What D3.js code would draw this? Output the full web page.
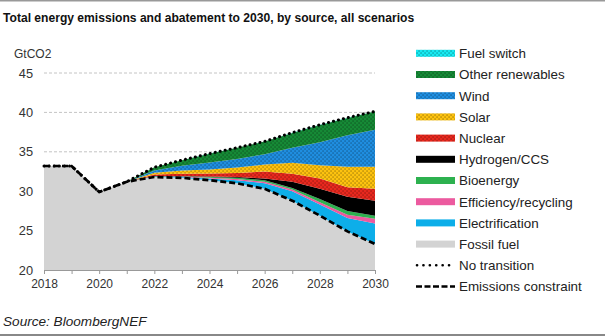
<!DOCTYPE html>
<html>
<head>
<meta charset="utf-8">
<script src="https://cdn.jsdelivr.net/npm/d3@7"></script>
<style>
  html, body { margin: 0; padding: 0; background: #fff; }
  svg { display: block; font-family: Arial, "Liberation Sans", sans-serif; }
</style>
</head>
<body>
<svg id="chart" width="605" height="336"></svg>
<script>
// Emissions by source (GtCO2), 2018–2030
const years = [2018, 2019, 2020, 2021, 2022, 2023, 2024, 2025, 2026, 2027, 2028, 2029, 2030];
const fossilFuel      = [33.2, 33.2, 29.9, 31.2, 31.8, 31.7, 31.4, 31.0, 30.3, 28.8, 26.9, 24.9, 23.3];
const electrification = [0, 0, 0, 0, 0.05, 0.1, 0.2, 0.4, 0.7, 1.2, 1.4, 1.7, 2.6];
const efficiency      = [0, 0, 0, 0, 0.03, 0.05, 0.1, 0.15, 0.2, 0.2, 0.3, 0.4, 0.6];
const bioenergy       = [0, 0, 0, 0, 0.03, 0.05, 0.1, 0.15, 0.2, 0.2, 0.4, 0.5, 0.4];
const hydrogenCCS     = [0, 0, 0, 0, 0.02, 0.03, 0.05, 0.1, 0.2, 0.8, 1.3, 1.8, 1.9];
const nuclear         = [0, 0, 0, 0, 0.2, 0.3, 0.4, 0.5, 0.9, 1.0, 1.3, 1.2, 1.5];
const solar           = [0, 0, 0, 0, 0.2, 0.4, 0.5, 0.7, 0.9, 1.4, 1.7, 2.6, 2.8];
const wind            = [0, 0, 0, 0, 0.3, 0.6, 0.9, 1.1, 1.3, 1.9, 2.9, 4.0, 4.7];
const otherRenewables = [0, 0, 0, 0, 0.4, 0.7, 1.1, 1.4, 1.6, 1.9, 2.2, 2.2, 2.3];
const fuelSwitch      = [0, 0, 0, 0, 0.01, 0.01, 0.02, 0.02, 0.02, 0.03, 0.03, 0.03, 0.03];

const yTicks = [20, 25, 30, 35, 40, 45];
const xTickLabels = [2018, 2020, 2022, 2024, 2026, 2028, 2030];

// Series, bottom of the stack first
const series = [
  { key: "fossil",  name: "Fossil fuel",           values: fossilFuel,      color: "#d3d3d3", dotted: false },
  { key: "elec",    name: "Electrification",       values: electrification, color: "#0daee9", dotted: false },
  { key: "eff",     name: "Efficiency/recycling",  values: efficiency,      color: "#ec5a9f", dotted: false },
  { key: "bio",     name: "Bioenergy",             values: bioenergy,       color: "#2db14f", dotted: false },
  { key: "h2",      name: "Hydrogen/CCS",          values: hydrogenCCS,     color: "#000000", dotted: false },
  { key: "nuc",     name: "Nuclear",               values: nuclear,         color: "#e8281e", dotted: true },
  { key: "solar",   name: "Solar",                 values: solar,           color: "#fdc20f", dotted: true },
  { key: "wind",    name: "Wind",                  values: wind,            color: "#1f8ee0", dotted: true },
  { key: "other",   name: "Other renewables",      values: otherRenewables, color: "#168a36", dotted: true },
  { key: "fuelsw",  name: "Fuel switch",           values: fuelSwitch,      color: "#17eaf2", dotted: true }
];

const rows = years.map((yr, i) => {
  const r = { year: yr };
  series.forEach(s => { r[s.key] = s.values[i]; });
  return r;
});
const stacked = d3.stack().keys(series.map(s => s.key))(rows);
const noTransition = rows.map(r => series.reduce((a, s) => a + r[s.key], 0));

const svg = d3.select("#chart");
const W = 605;

const x = d3.scaleLinear().domain([2018, 2030]).range([44, 375]);
const y = d3.scaleLinear().domain([20, 45]).range([270, 73]).clamp(true);

// Dot texture used on the renewable layers
const defs = svg.append("defs");
series.filter(s => s.dotted).forEach(s => {
  const p = defs.append("pattern")
    .attr("id", "pat-" + s.key)
    .attr("patternUnits", "userSpaceOnUse")
    .attr("width", 4).attr("height", 4);
  p.append("rect").attr("width", 4).attr("height", 4).attr("fill", s.color);
  p.append("rect").attr("x", 0.5).attr("y", 0.5).attr("width", 1.1).attr("height", 1.1).attr("fill", "rgba(0,0,0,0.5)");
  p.append("rect").attr("x", 2.5).attr("y", 2.5).attr("width", 1.1).attr("height", 1.1).attr("fill", "rgba(0,0,0,0.5)");
});
const fillOf = s => s.dotted ? `url(#pat-${s.key})` : s.color;

// Frame rules
svg.append("rect").attr("x", 0).attr("y", 0).attr("width", W).attr("height", 1.5).attr("fill", "#999");
svg.append("rect").attr("x", 0).attr("y", 334).attr("width", W).attr("height", 2).attr("fill", "#888");

// Title
svg.append("text")
  .attr("x", 3).attr("y", 22)
  .attr("font-size", 12.1).attr("font-weight", "bold").attr("fill", "#111")
  .text("Total energy emissions and abatement to 2030, by source, all scenarios");

// Unit label
svg.append("text")
  .attr("x", 14).attr("y", 58)
  .attr("font-size", 12).attr("fill", "#333")
  .text("GtCO2");

// Gridlines
svg.append("g").selectAll("line").data(yTicks.filter(t => t > 20)).join("line")
  .attr("x1", x(2018)).attr("x2", x(2030))
  .attr("y1", d => y(d)).attr("y2", d => y(d))
  .attr("stroke", "#c4c4c4").attr("stroke-width", 1).attr("stroke-dasharray", "3,2");

// Stacked areas
const area = d3.area()
  .x(d => x(d.data.year))
  .y0(d => y(d[0]))
  .y1(d => y(d[1]));
svg.append("g").selectAll("path").data(stacked).join("path")
  .attr("d", area)
  .attr("fill", (d, i) => fillOf(series[i]));

// Scenario lines
const line = d3.line().x((d, i) => x(years[i])).y(d => y(d));
svg.append("path").datum(noTransition)
  .attr("d", line).attr("fill", "none")
  .attr("stroke", "#000").attr("stroke-width", 3)
  .attr("stroke-linecap", "round").attr("stroke-dasharray", "0.1,5");
svg.append("path").datum(fossilFuel)
  .attr("d", line).attr("fill", "none")
  .attr("stroke", "#000").attr("stroke-width", 2.7)
  .attr("stroke-dasharray", "6,3");

// X axis
const xAxis = d3.axisBottom(x)
  .tickValues(years)
  .tickSize(4)
  .tickFormat(d => xTickLabels.includes(d) ? d : "");
const gx = svg.append("g").attr("transform", `translate(0,${y(20)})`).call(xAxis);
gx.select(".domain").attr("stroke", "#999");
gx.selectAll(".tick line").attr("stroke", "#999");
gx.selectAll(".tick text")
  .attr("font-size", 12).attr("fill", "#333").attr("dy", "0.9em")
  .attr("font-family", 'Arial, "Liberation Sans", sans-serif');

// Y axis labels
const yAxis = d3.axisLeft(y).tickValues(yTicks).tickSize(0).tickPadding(0);
const gy = svg.append("g").attr("transform", "translate(33,0)").call(yAxis);
gy.select(".domain").remove();
gy.selectAll(".tick text")
  .attr("font-size", 12.8).attr("fill", "#333")
  .attr("font-family", 'Arial, "Liberation Sans", sans-serif');

// Legend
const legendItems = series.slice().reverse().map(s => ({ name: s.name, kind: "fill", s }))
  .concat([{ name: "No transition", kind: "dots" }, { name: "Emissions constraint", kind: "dash" }]);
const lg = svg.append("g");
legendItems.forEach((it, i) => {
  const cy = 53.3 + i * 21.2;
  const g = lg.append("g");
  if (it.kind === "fill") {
    g.append("rect").attr("x", 416).attr("y", cy - 3.5).attr("width", 39).attr("height", 7)
      .attr("fill", fillOf(it.s));
  } else if (it.kind === "dots") {
    g.append("line").attr("x1", 417).attr("x2", 455).attr("y1", cy).attr("y2", cy)
      .attr("stroke", "#000").attr("stroke-width", 2.6).attr("stroke-linecap", "round")
      .attr("stroke-dasharray", "0.1,6.3");
  } else {
    g.append("line").attr("x1", 416).attr("x2", 455).attr("y1", cy).attr("y2", cy)
      .attr("stroke", "#000").attr("stroke-width", 2.4).attr("stroke-dasharray", "6,2.5");
  }
  g.append("text").attr("x", 459).attr("y", cy).attr("dy", "0.36em")
    .attr("font-size", 13.4).attr("fill", "#222").text(it.name);
});

// Source note
svg.append("text")
  .attr("x", 3).attr("y", 326)
  .attr("font-size", 13.6).attr("font-style", "italic").attr("fill", "#222")
  .text("Source: BloombergNEF");
</script>
</body>
</html>
